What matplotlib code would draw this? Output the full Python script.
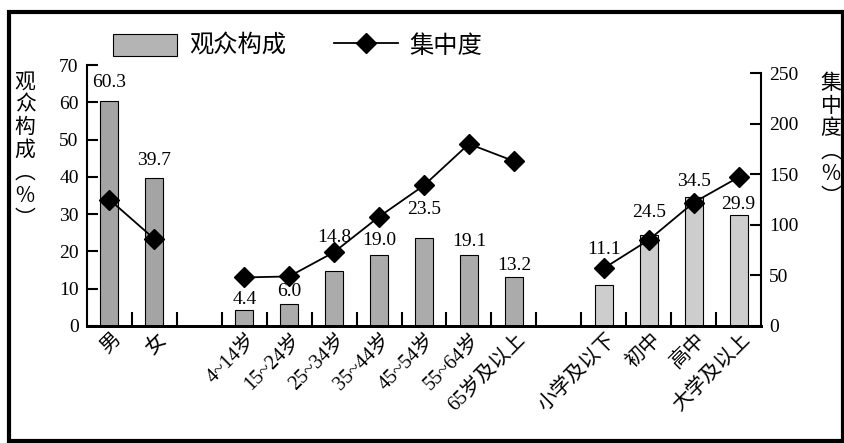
import matplotlib
matplotlib.use("Agg")
import matplotlib.pyplot as plt
import matplotlib.transforms as mtransforms
from matplotlib.patches import Rectangle, Patch
from matplotlib.lines import Line2D
import numpy as np

# categories in three groups, one empty slot between groups
gender = ['男', '女']
age = ['4~14岁', '15~24岁', '25~34岁', '35~44岁', '45~54岁', '55~64岁', '65岁及以上']
edu = ['小学及以下', '初中', '高中', '大学及以上']

# audience share (%), left axis
gender_share = [60.3, 39.7]
age_share = [4.4, 6.0, 14.8, 19.0, 23.5, 19.1, 13.2]
edu_share = [11.1, 24.5, 34.5, 29.9]

# concentration (%), right axis
gender_conc = [125, 86]
age_conc = [48, 49, 73, 108, 139, 180, 163]
edu_conc = [57, 85, 122, 147]

# value label lift above each bar (pixels), to dodge the markers
label_dy = [[19, 17], [10, 12, 33, 15, 29, 13, 11], [35, 22, 16, 10]]

num_font = ['Liberation Serif', 'Noto Sans CJK SC', 'DejaVu Sans']
cjk_font = ['Noto Sans CJK SC', 'DejaVu Sans']

fig = plt.figure(figsize=(8.45, 4.43), dpi=100)
ax = fig.add_axes([87 / 845, 117 / 443, 674 / 845, 261 / 443])
ax2 = ax.twinx()

groups = [(gender, gender_share, gender_conc, '#a4a4a4'),
          (age, age_share, age_conc, '#ababab'),
          (edu, edu_share, edu_conc, '#cdcdcd')]

labels = []
pos = 0
bar_w = 0.4
for gi, (cats, share, conc, color) in enumerate(groups):
    x = np.arange(pos, pos + len(cats))
    ax.bar(x, share, width=bar_w, color=color, edgecolor='black', linewidth=0.8, zorder=2)
    ax2.plot(x, conc, color='black', lw=1.3, marker='D', ms=10, zorder=3)
    for xi, v, dy in zip(x, share, label_dy[gi]):
        ax.annotate(f'{v:.1f}', (xi, v), xytext=(0, dy), textcoords='offset pixels',
                    ha='center', va='center', fontsize=14, family=num_font)
    labels += list(zip(x, cats))
    pos += len(cats) + 1

ax.set_xlim(-0.5, pos - 1.5)
ax.set_ylim(0, 70)
ax2.set_ylim(0, 258)

# separators between slots
ax.set_xticks(np.arange(0.5, pos - 2, 1.0))
ax.set_xticklabels([])
ax.tick_params(axis='x', direction='in', length=10, width=1.5, top=False)
for xi, name in labels:
    off = mtransforms.ScaledTranslation(9 / 100, -11 / 100, fig.dpi_scale_trans)
    ax.text(xi, 0, name, rotation=45, ha='right', va='center', rotation_mode='anchor',
            fontsize=14.5, family=num_font, transform=ax.transData + off)

ax.set_yticks(range(0, 71, 10))
ax.tick_params(axis='y', direction='in', length=8, width=1.5, labelsize=14, pad=6)
ax2.set_yticks(range(0, 251, 50))
ax2.tick_params(axis='y', direction='in', length=8, width=1.5, labelsize=14, pad=6)
for t in ax.get_yticklabels() + ax2.get_yticklabels():
    t.set_family(num_font)

for a in (ax, ax2):
    a.spines['top'].set_visible(False)
    a.spines['bottom'].set_linewidth(2)
    a.spines['left'].set_linewidth(1.5)
    a.spines['right'].set_linewidth(1.5)
ax2.spines['right'].set_bounds(0, 250)
ax2.spines['left'].set_visible(False)
ax.spines['right'].set_visible(False)

# vertical axis titles
fig.text(25 / 845, 1 - 150 / 443, '观\n众\n构\n成\n︵\n%\n︶', ha='center', va='center',
         fontsize=15, family=cjk_font, linespacing=1.05)
fig.text(831 / 845, 1 - 140 / 443, '集\n中\n度\n︵\n%\n︶', ha='center', va='center',
         fontsize=15, family=cjk_font, linespacing=1.05)

# legend
handles = [Patch(facecolor='#b4b4b4', edgecolor='black', linewidth=0.8),
           Line2D([], [], color='black', lw=1.3, marker='D', ms=10)]
fig.legend(handles, ['观众构成', '集中度'], loc='center', bbox_to_anchor=(298 / 845, 1 - 46 / 443),
           ncol=2, frameon=False, prop={'family': cjk_font, 'size': 17.5},
           handlelength=2.6, handleheight=1.0, columnspacing=2.0, handletextpad=0.5)

# outer frame
fig.patches.append(Rectangle((9 / 845, 2 / 443), 834 / 845, 429 / 443, transform=fig.transFigure,
                             fill=False, edgecolor='black', linewidth=3))

fig.savefig('out.png', dpi=100)
